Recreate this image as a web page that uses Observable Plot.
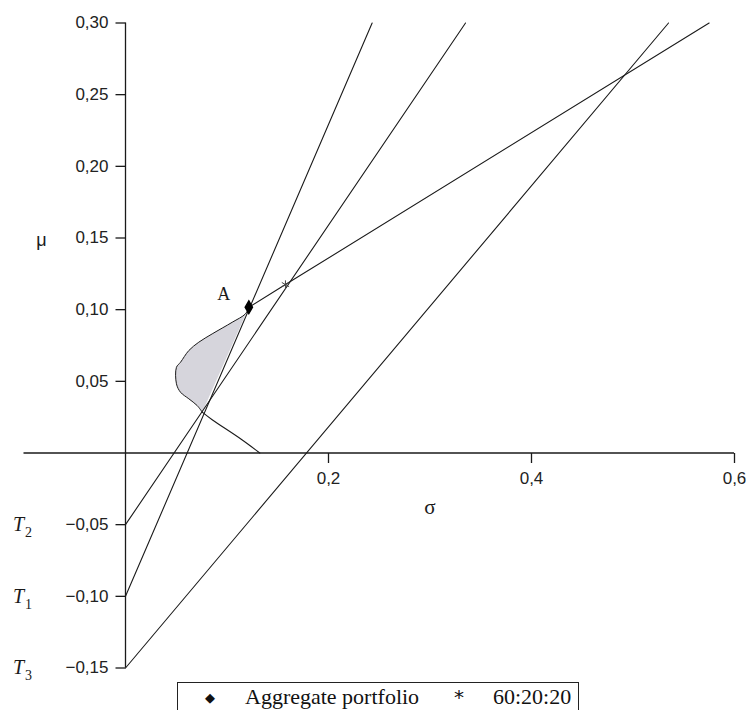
<!DOCTYPE html>
<html>
<head>
<meta charset="utf-8">
<script src="https://cdn.jsdelivr.net/npm/d3@7"></script>
<script src="https://cdn.jsdelivr.net/npm/@observablehq/plot@0.6"></script>
<style>
  html, body { margin: 0; padding: 0; background: #fff; overflow: hidden; }
  #chart svg { display: block; }
  #legend {
    position: relative; margin-left: 177px; width: 400px; height: 27px;
    border: 1.5px solid #222; border-bottom: none;
    font-family: "Liberation Serif", "Times New Roman", serif; font-size: 22px; color: #111;
  }
  #legend span { position: absolute; top: 2px; white-space: nowrap; line-height: 24px; }
</style>
</head>
<body>
<div id="chart"></div>
<div id="legend"></div>
<script>
// ---- data (σ = risk, μ = expected return) ----
const yTicks = [0.30, 0.25, 0.20, 0.15, 0.10, 0.05, -0.05, -0.10, -0.15];
const yTickLabels = ["0,30", "0,25", "0,20", "0,15", "0,10", "0,05", "−0,05", "−0,10", "−0,15"];
const xTicks = [0.2, 0.4, 0.6];
const xTickLabels = ["0,2", "0,4", "0,6"];

// tangent lines starting at the intercepts T1, T2, T3
const tangentNames = ["1", "2", "3"];
const tangentIntercepts = [-0.10, -0.05, -0.15];
const tangentEndSigma = [0.243, 0.335, 0.535];
const tangentEndMu = [0.30, 0.30, 0.30];

// straight line through A and the 60:20:20 portfolio
const outerSigma = [0.1215, 0.1576, 0.575];
const outerMu = [0.1017, 0.1175, 0.30];

// shaded region boundary (from A round to B)
const regionSigma = [0.1215, 0.1182, 0.1051, 0.0854, 0.0722, 0.0624, 0.0542, 0.0502, 0.0502, 0.0542, 0.0624, 0.0706, 0.0756];
const regionMu    = [0.1017, 0.0971, 0.0912, 0.0831, 0.0773, 0.0715, 0.0633, 0.0598, 0.0483, 0.0424, 0.0378, 0.0331, 0.0285];

// lower frontier tail from B to the σ axis
const tailSigma = [0.0756, 0.0854, 0.1133, 0.1323];
const tailMu    = [0.0285, 0.0232, 0.0099, 0.0];

// marked portfolios
const aggregate = {sigma: 0.1215, mu: 0.1017, label: "A"};
const mix602020 = {sigma: 0.1576, mu: 0.1175};

// axis extents
const xAxisFrom = -0.1, xAxisTo = 0.6;
const yAxisFrom = -0.15, yAxisTo = 0.30;

// ---- build tables ----
const tangentLines = tangentNames.flatMap((n, i) => [
  {line: n, s: 0, m: tangentIntercepts[i]},
  {line: n, s: tangentEndSigma[i], m: tangentEndMu[i]}
]);
const outerLine = outerSigma.map((s, i) => ({s, m: outerMu[i]}));
const region = regionSigma.map((s, i) => ({s, m: regionMu[i]}));
const tail = tailSigma.map((s, i) => ({s, m: tailMu[i]}));
const tLabels = tangentNames.map((n, i) => ({n, m: tangentIntercepts[i]}));

const tickDown = {draw(ctx) { ctx.moveTo(0, 0); ctx.lineTo(0, 10); }};
const tickLeft = {draw(ctx) { ctx.moveTo(0, 0); ctx.lineTo(-10, 0); }};

const sans = "'Liberation Sans', Arial, sans-serif";
const serif = "'Liberation Serif', 'Times New Roman', serif";
const ink = "#1a1a1a";

const chart = Plot.plot({
  width: 746,
  height: 682,
  marginLeft: 125,
  marginRight: 12,
  marginTop: 22.5,
  marginBottom: 14.5,
  x: {domain: [0, 0.6], axis: null},
  y: {domain: [-0.15, 0.30], axis: null},
  marks: [
    Plot.line(region, {x: "s", y: "m", fill: "#d6d5dc", stroke: ink, strokeWidth: 1, curve: "catmull-rom"}),
    Plot.ruleY([0], {x1: xAxisFrom, x2: xAxisTo, stroke: ink, strokeWidth: 1.3}),
    Plot.ruleX([0], {y1: yAxisFrom, y2: yAxisTo, stroke: ink, strokeWidth: 1.3}),
    Plot.dot(yTicks, {x: () => 0, y: d => d, symbol: tickLeft, stroke: ink, fill: "none", strokeWidth: 1.3}),
    Plot.dot(xTicks, {x: d => d, y: () => 0, symbol: tickDown, stroke: ink, fill: "none", strokeWidth: 1.3}),
    Plot.text(yTicks, {x: () => 0, y: d => d, text: (d, i) => yTickLabels[i], dx: -17, textAnchor: "end", fontSize: 17, fontFamily: sans, fill: "#222"}),
    Plot.text(xTicks, {x: d => d, y: () => 0, text: (d, i) => xTickLabels[i], dy: 26, fontSize: 17, fontFamily: sans, fill: "#222"}),
    Plot.line(tangentLines, {x: "s", y: "m", z: "line", stroke: ink, strokeWidth: 1.1}),
    Plot.line(outerLine, {x: "s", y: "m", stroke: ink, strokeWidth: 1.1}),
    Plot.line(tail, {x: "s", y: "m", stroke: ink, strokeWidth: 1.1, curve: "catmull-rom"}),
    Plot.dot([aggregate], {x: "sigma", y: "mu", symbol: "diamond", r: 3.8, fill: "#000", stroke: "#000"}),
    Plot.dot([mix602020], {x: "sigma", y: "mu", symbol: "asterisk", r: 4, stroke: "#444", strokeWidth: 1}),
    Plot.text([aggregate], {x: "sigma", y: "mu", text: "label", dx: -25, dy: -13, fontSize: 18, fontFamily: serif, fill: ink}),
    Plot.text(["μ"], {x: () => 0, y: () => 0.15, text: d => d, dx: -84, dy: 2, fontSize: 18, fontFamily: sans, fill: ink}),
    Plot.text(["σ"], {x: () => 0.3, y: () => 0, text: d => d, dy: 54, fontSize: 21, fontFamily: serif, fill: ink}),
    Plot.text(tLabels, {x: () => 0, y: "m", text: () => "T", dx: -107, dy: 0, fontSize: 20, fontStyle: "italic", fontFamily: serif, fill: ink}),
    Plot.text(tLabels, {x: () => 0, y: "m", text: "n", dx: -97, dy: 8, fontSize: 14, fontFamily: serif, fill: ink})
  ]
});
document.getElementById("chart").appendChild(chart);

// legend
const legendItems = [
  {sym: "◆", symX: 27, symSize: "13px", symTop: 5, label: "Aggregate portfolio", labelX: 67},
  {sym: "*", symX: 276, symSize: "20px", symTop: 4, label: "60:20:20", labelX: 315}
];
const legend = document.getElementById("legend");
for (const it of legendItems) {
  const s = document.createElement("span");
  s.textContent = it.sym;
  s.style.left = it.symX + "px";
  s.style.fontSize = it.symSize;
  s.style.fontFamily = "'DejaVu Sans', sans-serif";
  s.style.top = it.symTop + "px";
  s.style.lineHeight = "20px";
  legend.appendChild(s);
  const t = document.createElement("span");
  t.textContent = it.label;
  t.style.left = it.labelX + "px";
  legend.appendChild(t);
}
</script>
</body>
</html>
